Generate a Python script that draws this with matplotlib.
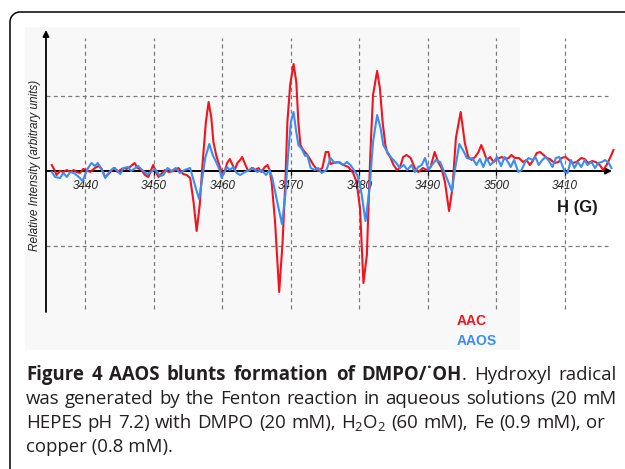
import numpy as np
import matplotlib
matplotlib.use("Agg")
import matplotlib.pyplot as plt

plt.rcParams['font.family'] = ['Liberation Sans', 'DejaVu Sans']
plt.rcParams['mathtext.fontset'] = 'custom'
plt.rcParams['mathtext.rm'] = 'Open Sans'
plt.rcParams['mathtext.it'] = 'Open Sans:italic'
plt.rcParams['mathtext.bf'] = 'Open Sans:bold'

# field (G) / intensity (arbitrary units)
aac_field = [3435.1, 3435.5, 3435.8, 3436.3, 3436.8, 3437.3, 3437.8, 3438.3, 3438.7, 3439.2,
             3439.7, 3440.2, 3440.7, 3441.4, 3441.9, 3442.4, 3442.9, 3443.4, 3443.9, 3444.3,
             3444.7, 3445.1, 3445.6, 3446.0, 3446.5, 3447.2, 3447.6, 3448.2, 3448.7, 3449.2,
             3449.6, 3449.9, 3450.3, 3450.7, 3451.2, 3451.6, 3452.2, 3452.9, 3453.6, 3454.3,
             3454.8, 3455.3, 3455.8, 3456.25, 3456.7, 3457.1, 3457.6, 3458.0, 3458.4, 3458.7,
             3459.1, 3459.4, 3459.8, 3460.1, 3460.4, 3460.7, 3461.1, 3461.5, 3461.8, 3462.2,
             3462.6, 3462.9, 3463.2, 3463.5, 3463.8, 3464.3, 3464.8, 3465.3, 3465.7, 3466.2,
             3466.6, 3466.9, 3467.2, 3467.7, 3468.3, 3468.8, 3469.2, 3469.5, 3469.9, 3470.4,
             3470.8, 3471.1, 3471.4, 3471.8, 3472.3, 3472.7, 3473.3, 3474.0, 3474.6, 3475.1,
             3475.5, 3475.8, 3476.2, 3476.9, 3477.7, 3478.4, 3479.1, 3479.6, 3480.1, 3480.6,
             3481.1, 3481.6, 3482.0, 3482.6, 3483.0, 3483.4, 3483.8, 3484.1, 3484.5, 3485.0,
             3485.5, 3485.9, 3486.4, 3486.9, 3487.5, 3488.1, 3488.6, 3489.3, 3489.8, 3490.4,
             3491.0, 3491.5, 3492.0, 3492.5, 3493.1, 3493.6, 3494.1, 3494.8, 3495.4, 3495.9,
             3496.4, 3496.9, 3497.4, 3497.8, 3498.1, 3498.6, 3499.1, 3499.6, 3500.1, 3500.8,
             3501.3, 3501.8, 3502.2, 3502.7, 3503.3, 3503.9, 3504.4, 3504.9, 3505.4, 3505.9,
             3506.4, 3506.9, 3507.4, 3507.8, 3508.5, 3509.1, 3509.5, 3510.1, 3510.6, 3511.1,
             3511.7, 3512.4, 3512.9, 3513.4, 3514.0, 3514.5, 3515.1, 3515.6, 3516.1, 3516.6,
             3517.1]
aac_int = [6, 1, -4, 0, -1, 1, -1, 1, -1, -2,
           2, 1, -1, 3, 5, 2, -6, -3, 1, 3,
           -1, 1, 3, 2, 4, 8, 3, 1, -4, -6,
           1, 6, -1, -6, -2, 1, -1, 0, 3, -3,
           -4, -7, -31, -60, -34, 6, 49, 69, 53, 29,
           16, 9, 1, -4, 1, 8, 12, 6, 1, 8,
           11, 14, 9, 4, 0, 3, 1, 3, -1, 4,
           6, 1, -11, -51, -121, -71, -11, 49, 86, 107,
           89, 49, 26, 21, 17, 13, 6, 0, 3, 19,
           19, 7, 8, 9, 6, 4, -2, -11, -37, -112,
           -84, 16, 76, 100, 83, 49, 26, 18, 14, 6,
           1, 3, 14, 16, 13, 3, -1, 3, 1, 4,
           19, 9, 3, -11, -40, -17, 33, 59, 28, 14,
           11, 14, 19, 26, 21, 11, 14, 9, 12, 14,
           12, 13, 16, 13, 13, 9, 11, 6, 11, 18,
           19, 16, 13, 12, 8, 9, 13, 14, 11, 8,
           9, 13, 12, 8, 10, 9, 6, 1, 6, 13,
           21]

aaos_field = [3435.1, 3435.6, 3436.3, 3436.8, 3437.3, 3437.8, 3438.3, 3438.7, 3439.2, 3439.6,
              3440.0, 3440.4, 3440.9, 3441.4, 3441.8, 3442.3, 3442.9, 3443.5, 3444.1, 3444.6,
              3445.1, 3445.6, 3446.2, 3446.7, 3447.3, 3447.7, 3448.3, 3449.0, 3449.6, 3450.2,
              3450.9, 3451.4, 3452.0, 3452.6, 3453.2, 3453.8, 3454.5, 3455.3, 3456.0, 3456.6,
              3457.0, 3457.5, 3458.1, 3458.6, 3459.1, 3459.6, 3459.9, 3460.3, 3460.7, 3461.1,
              3461.6, 3462.1, 3462.6, 3463.3, 3464.0, 3464.5, 3465.1, 3465.7, 3466.4, 3466.9,
              3467.3, 3467.9, 3468.7, 3469.2, 3469.6, 3470.0, 3470.4, 3470.8, 3471.1, 3471.6,
              3472.1, 3472.4, 3472.9, 3473.5, 3474.0, 3474.5, 3475.2, 3475.8, 3476.4, 3477.1,
              3477.6, 3478.2, 3478.7, 3479.2, 3479.7, 3480.2, 3480.9, 3481.5, 3482.0, 3482.6,
              3483.1, 3483.5, 3484.1, 3484.7, 3485.4, 3485.9, 3486.5, 3487.0, 3487.6, 3488.1,
              3488.6, 3489.1, 3489.6, 3490.1, 3490.6, 3491.2, 3491.8, 3492.4, 3493.0, 3493.5,
              3494.0, 3494.6, 3495.2, 3495.7, 3496.2, 3496.5, 3497.1, 3497.6, 3498.1, 3498.6,
              3499.1, 3499.6, 3500.1, 3500.7, 3501.2, 3501.7, 3502.1, 3502.6, 3503.2, 3503.7,
              3504.2, 3504.7, 3505.3, 3505.7, 3506.2, 3506.7, 3507.2, 3507.7, 3508.2, 3508.7,
              3509.2, 3509.5, 3510.0, 3510.4, 3510.9, 3511.4, 3511.9, 3512.4, 3512.9, 3513.3,
              3513.9, 3514.4, 3514.9, 3515.4, 3515.9, 3516.4, 3516.8]
aaos_int = [-1, -6, -7, -2, -6, -1, -2, -4, -7, -10,
            -3, 3, 8, 5, 8, 3, -7, -1, 3, 1,
            -3, 3, 4, 0, 3, 5, 1, -3, -1, 2,
            -5, -4, 3, 0, 3, -2, 1, 3, -14, -28,
            -11, 13, 27, 16, 9, 1, -7, -1, 4, 1,
            4, -2, -4, -1, 1, 3, -1, 1, -4, 1,
            -7, -27, -53, -24, 16, 49, 59, 39, 26, 22,
            15, 16, 3, 1, 3, -2, 1, 13, 8, 9,
            6, 9, 6, 1, -4, -17, -50, -17, 29, 56,
            43, 26, 19, 13, 8, 3, 6, 1, 6, -1,
            4, 6, 13, 1, 6, 11, 9, -1, -11, -20,
            3, 27, 20, 13, 12, 13, 6, 12, 4, 13,
            6, 9, 14, 5, 14, 9, 4, 11, -1, 1,
            9, 13, 11, 14, 6, 11, 14, 10, 4, 13,
            14, 8, -1, -2, 11, 3, 9, 4, 11, 6,
            9, 3, 8, 9, 11, 8, 3]

tick_pos = [3440, 3450, 3460, 3470, 3480, 3490, 3500, 3510]
tick_labels = ["3440", "3450", "3460", "3470", "3480", "3490", "3500", "3410"]
grid_levels = [-75, 75]

RED = "#f0141e"
BLUE = "#3a8ef2"
X0, X1 = 3434.26, 3518.0

fig = plt.figure(figsize=(6.25, 4.69), dpi=100)

# page-level overlay in pixel coordinates
bg = fig.add_axes([0, 0, 1, 1], zorder=0)
bg.set_xlim(0, 625)
bg.set_ylim(469, 0)
bg.axis("off")
bg.add_patch(plt.Rectangle((25, 27), 495, 323, color="#f8f8f8", lw=0))
t = np.linspace(np.pi, 1.5 * np.pi, 20)
fx = np.concatenate([[10], 20 + 10 * np.cos(t), [625]])
fy = np.concatenate([[469], 22 + 10 * np.sin(t), [12]])
bg.plot(fx, fy, color="black", lw=1.1, solid_capstyle="butt")

ax = fig.add_axes([46 / 625, 157 / 469, (X1 - X0) * 6.85 / 625, 282 / 469], zorder=1)
ax.patch.set_alpha(0)
ax.set_xlim(X0, X1)
ax.set_ylim(-141, 141)
ax.axis("off")

dash = (0, (3.2, 2.6))
ax.vlines(tick_pos, -138, 133, colors="#7a7a7a", lw=0.9, linestyles=dash)
ax.hlines(grid_levels, X0, 3516.3, colors="#7a7a7a", lw=0.9, linestyles=dash)
ax.vlines(tick_pos, -4, 0, colors="black", lw=0.9)

ax.annotate("", xy=(X0, 141), xytext=(X0, -141),
            arrowprops=dict(arrowstyle="-|>", color="black", lw=1.3,
                            mutation_scale=9, shrinkA=0, shrinkB=0))
ax.annotate("", xy=(3516.9, 0), xytext=(X0, 0),
            arrowprops=dict(arrowstyle="-|>", color="black", lw=1.4,
                            mutation_scale=9, shrinkA=0, shrinkB=0))

ax.plot(aac_field, aac_int, color=RED, lw=1.5, clip_on=False, zorder=3)
ax.plot(aaos_field, aaos_int, color=BLUE, lw=1.5, clip_on=False, zorder=4)

for pos, lab in zip(tick_pos, tick_labels):
    ax.text(pos, -15, lab, ha="center", va="center", fontsize=8.4,
            style="italic", color="#222222")
ax.text(3511.9, -36, "H (G)", ha="center", va="center", fontsize=12,
        fontweight="bold", color="#1a1a1a")

bg.text(35, 165, "Relative Intensity (arbitrary units)", rotation=90,
        ha="center", va="center", fontsize=8.5, style="italic", color="#222222")
bg.text(457, 321, "AAC", color=RED, fontsize=10, fontweight="bold",
        ha="left", va="center")
bg.text(457, 341, "AAOS", color=BLUE, fontsize=10, fontweight="bold",
        ha="left", va="center")

# caption, justified like the journal layout
cap_font = ['Open Sans', 'DejaVu Sans']
cap_color = "#231f20"
line2 = "was generated by the Fenton reaction in aqueous solutions (20 mM"
lines = [
    ([[("Figure", "bold")], [("4", "bold")], [("AAOS", "bold")], [("blunts", "bold")],
      [("formation", "bold")], [("of", "bold")], [("DMPO/\u02d9OH", "bold"), (".", "normal")],
      [("Hydroxyl", "normal")], [("radical", "normal")]], 380, 617),
    ([[(w, "normal")] for w in line2.split()], 404, 617),
    ([[(w, "normal")] for w in "HEPES pH 7.2) with DMPO (20 mM), H$_2$O$_2$ (60 mM), Fe (0.9 mM), or".split()],
     428, 605),
    ([[("copper (0.8 mM).", "normal")]], 452, None),
]

renderer = fig.canvas.get_renderer()


def width_px(artist):
    return artist.get_window_extent(renderer=renderer).width


# size the caption font so the second line fills the text column
probe = bg.text(0, 0, line2, fontsize=10, family=cap_font)
cap_size = 10 * (617 - 26 - 8) / width_px(probe)
probe.remove()

for words, ybase, xright in lines:
    arts = []
    widths = []
    for word in words:
        parts = []
        wsum = 0
        for txt, wt in word:
            a = bg.text(0, ybase, txt, fontsize=cap_size, fontweight=wt,
                        family=cap_font, color=cap_color, ha="left", va="baseline")
            w = width_px(a)
            parts.append((a, w))
            wsum += w
        arts.append(parts)
        widths.append(wsum)
    if xright is None or len(words) < 2:
        gap = 0
    else:
        gap = (xright - 26 - sum(widths)) / (len(words) - 1)
    x = 26
    for parts, w in zip(arts, widths):
        xx = x
        for a, pw in parts:
            a.set_x(xx)
            xx += pw
        x += w + gap

fig.savefig("out.png", dpi=100)
